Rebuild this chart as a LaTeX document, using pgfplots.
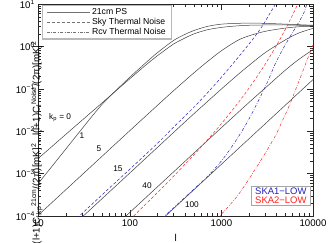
\documentclass[border=0pt]{standalone}
\usepackage{fontspec}
\setmainfont{Liberation Sans}
\usepackage{pgfplots}
\pgfplotsset{compat=1.18}
\definecolor{skablue}{RGB}{35,35,190}
\definecolor{skared}{RGB}{255,35,35}
\newcommand{\fs}[2]{\fontsize{#1}{#2}\selectfont}
\newlength\lablen
\newcommand\labtext{l(l+1)C\textsubscript{l,kp}\textsuperscript{21cm}/(2π)[mK]\textsuperscript{2}, \ l(l+1)C\textsubscript{l}\textsuperscript{Noise}/(2π)[mK]\textsuperscript{2}}
\begin{document}%
\settowidth\lablen{\fs{10}{10}\labtext}%
\pgfmathsetmacro\labfs{min(12,max(6,10*205.75/\lablen))}%
\begin{tikzpicture}
\begin{axis}[
  name=ax,
  scale only axis, width=274.7bp, height=211.7bp,
  xmode=log, ymode=log, xmin=10, xmax=10000, ymin=1e-4, ymax=10,
  xtick={10,100,1000,10000}, xticklabels={10,100,1000,10000},
  minor xtick={20,30,40,50,60,70,80,90,200,300,400,500,600,700,800,900,2000,3000,4000,5000,6000,7000,8000,9000},
  ytick={1e-4,1e-3,1e-2,1e-1,1,10},
  yticklabels={10\textsuperscript{−4},10\textsuperscript{−3},10\textsuperscript{−2},10\textsuperscript{−1},10\textsuperscript{0},10\textsuperscript{1}},
  minor ytick={2e-4,3e-4,4e-4,5e-4,6e-4,7e-4,8e-4,9e-4,2e-3,3e-3,4e-3,5e-3,6e-3,7e-3,8e-3,9e-3,0.02,0.03,0.04,0.05,0.06,0.07,0.08,0.09,0.2,0.3,0.4,0.5,0.6,0.7,0.8,0.9,2,3,4,5,6,7,8,9},
  tick align=inside, major tick length=6bp, minor tick length=3bp,
  tick style={black!85, line width=0.6bp},
  axis line style={black!85, line width=0.8bp},
  tick label style={font=\fs{9.7}{10}},
  xlabel={l},
  ylabel={\labtext},
  every axis x label/.style={at={(axis description cs:0.5,0)}, anchor=center, yshift=-21.7bp, font=\fs{10}{10}},
  every axis y label/.style={at={(axis description cs:0,0)}, rotate=90, anchor=west, xshift=-30.5bp, yshift=1.5bp, inner sep=0pt, font=\fs{\labfs}{\labfs}},
  legend style={at={(rel axis cs:0.0135,0.9967)}, anchor=north west, draw=gray!55, line width=1.2bp, fill=white,
    font=\fs{8.7}{9}, inner xsep=4bp, inner ysep=0.8bp, row sep=-1.6bp, cells={anchor=west}},
  legend image code/.code={\draw[line width=0.5bp,#1] (0bp,0bp) -- (43bp,0bp);},
]
\addlegendimage{black!55}
\addlegendentry{21cm PS}
\addlegendimage{black!55, dash pattern=on 3bp off 2bp}
\addlegendentry{Sky Thermal Noise}
\addlegendimage{black!55, dash pattern=on 3bp off 1.5bp on 0.6bp off 1.5bp}
\addlegendentry{Rcv Thermal Noise}

% 21cm PS, k_p = 0,1,5,15,40,100
\addplot[black!75, line width=0.5bp, smooth, forget plot] coordinates {(10,2.3e-3)(15,4.93e-3)(20,8.5e-3)(30,0.0182)(50,0.0475)(70,0.0895)(100,0.175)(150,0.37)(200,0.61)(300,1.15)(400,1.6)(500,2.0)(700,2.5)(1000,2.85)(1500,3.1)(2000,3.2)(3000,3.25)(5000,3.25)(7000,3.2)(10000,3.15)};
\addplot[black!75, line width=0.5bp, smooth, forget plot] coordinates {(10,5.9e-4)(15,1.76e-3)(20,3.83e-3)(30,0.0115)(40,0.0249)(50,0.044)(60,0.066)(70,0.091)(100,0.19)(150,0.42)(200,0.72)(300,1.4)(400,1.95)(500,2.4)(700,3.0)(1000,3.4)(1500,3.55)(2000,3.6)(3000,3.55)(5000,3.4)(7000,3.3)(10000,3.2)};
\addplot[black!75, line width=0.5bp, smooth, forget plot] coordinates {(10,1.05e-4)(30,9.4e-4)(100,0.0104)(200,0.041)(300,0.091)(500,0.24)(700,0.44)(1000,0.8)(1500,1.4)(2000,1.8)(3000,2.3)(5000,2.75)(7000,2.95)(10000,3.05)};
\addplot[black!75, line width=0.5bp, smooth, forget plot] coordinates {(20,4.16e-5)(31,1e-4)(100,1.04e-3)(300,9.4e-3)(500,0.026)(700,0.05)(1000,0.1)(1500,0.215)(2000,0.36)(3000,0.72)(5000,1.45)(7000,2.1)(10000,2.7)};
\addplot[black!75, line width=0.5bp, smooth, forget plot] coordinates {(60,4.4e-5)(90.6,1e-4)(300,1.1e-3)(1000,0.0122)(2000,0.048)(3000,0.105)(5000,0.28)(7000,0.5)(10000,0.85)};
\addplot[black!75, line width=0.5bp, forget plot] coordinates {(150,3.75e-5)(245,1e-4)(1000,1.67e-3)(3000,0.015)(10000,0.167)};

% Sky thermal noise
\addplot[skablue, line width=0.5bp, dash pattern=on 3bp off 2bp, smooth, forget plot] coordinates {(20,5.1e-5)(28,1e-4)(50,3.2e-4)(100,1.28e-3)(200,5.2e-3)(310,0.0134)(500,0.037)(718,0.085)(1000,0.19)(1300,0.37)(1660,0.7)(2000,1.15)(2500,2.15)(2930,3.6)(3400,6.2)(3890,10)(4200,13)};
\addplot[skared, line width=0.5bp, dash pattern=on 3bp off 2bp, smooth, forget plot] coordinates {(100,8.2e-5)(117,1.14e-4)(200,3.58e-4)(300,8.7e-4)(500,2.78e-3)(700,6.2e-3)(1000,0.0152)(1500,0.0453)(2000,0.1046)(2500,0.21)(3000,0.384)(3500,0.658)(4000,1.075)(4500,1.695)(5000,2.59)(5600,4.19)(6000,5.67)(6500,8.15)(7000,11.6)};

% Receiver thermal noise
\addplot[skablue, line width=0.5bp, dash pattern=on 3bp off 1.5bp on 0.6bp off 1.5bp, smooth, forget plot] coordinates {(200,7e-5)(240,1e-4)(500,4.3e-4)(700,8.5e-4)(1000,2.0e-3)(1400,5.5e-3)(1900,0.016)(2500,0.05)(3200,0.15)(3840,0.38)(4500,0.75)(5500,1.6)(6500,2.9)(7200,4.2)(8000,6.5)(8570,10)(9000,13)};
\addplot[skared, line width=0.5bp, dash pattern=on 3bp off 1.5bp on 0.6bp off 1.5bp, smooth, forget plot] coordinates {(900,8.5e-5)(960,1e-4)(1200,1.7e-4)(1500,3.0e-4)(1720,4.6e-4)(2000,7.5e-4)(2500,1.6e-3)(3000,3.0e-3)(3500,5.3e-3)(4000,8.8e-3)(4610,0.0174)(5500,0.04)(6500,0.1)(7500,0.22)(8500,0.45)(10000,1.1)};

% curve labels
\node[font=\fs{8.3}{9}] at (axis cs:17.3,0.0216) {k\textsubscript{p} = 0};
\node[font=\fs{8.3}{9}] at (axis cs:30,8.1e-3) {1};
\node[font=\fs{8.3}{9}] at (axis cs:46,3.8e-3) {5};
\node[font=\fs{8.3}{9}] at (axis cs:74,1.28e-3) {15};
\node[font=\fs{8.3}{9}] at (axis cs:154,5.1e-4) {40};
\node[font=\fs{8.3}{9}] at (axis cs:476,1.9e-4) {100};

% second legend
\node[draw=gray!70, line width=1bp, fill=white, anchor=south east, inner xsep=4bp, inner ysep=1.5bp, align=left, font=\fs{9.5}{9}]
  at (rel axis cs:0.9927,0.0472) {\textcolor{skablue}{SKA1−LOW}\\\textcolor{skared}{SKA2−LOW}};
\end{axis}
\pgfresetboundingbox
\path[use as bounding box] ([shift={(-38.3bp,-26bp)}]ax.south west) rectangle ([shift={(15bp,4.3bp)}]ax.north east);
\end{tikzpicture}
\end{document}
